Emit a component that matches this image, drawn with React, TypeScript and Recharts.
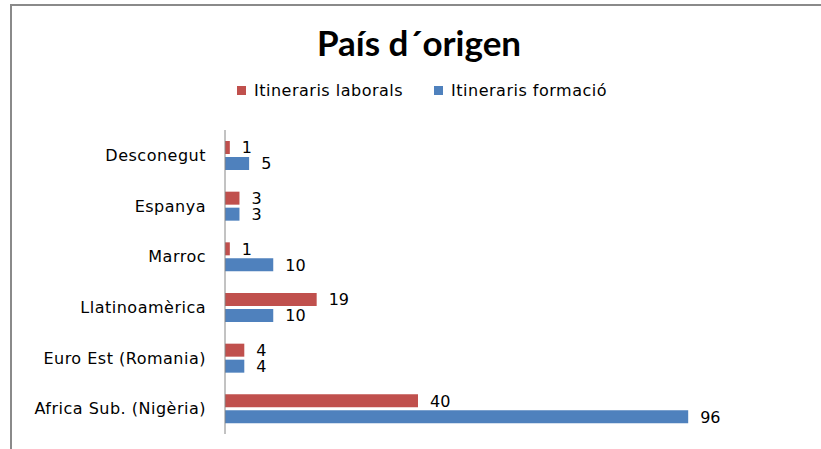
import React from "react";
import { BarChart, Bar, XAxis, YAxis, LabelList } from "recharts";

const categories = [
  "Desconegut",
  "Espanya",
  "Marroc",
  "Llatinoamèrica",
  "Euro Est (Romania)",
  "Africa Sub. (Nigèria)",
];
const laborals = [1, 3, 1, 19, 4, 40];
const formacio = [5, 3, 10, 10, 4, 96];
const seriesNames = ["Itineraris laborals", "Itineraris formació"];
const seriesColors = ["#C0504D", "#4F81BD"];

const data = categories.map((name, i) => ({
  name,
  laborals: laborals[i],
  formacio: formacio[i],
}));

const labelFont = "'DejaVu Sans', Verdana, sans-serif";

export default function App() {
  return (
    <div style={{ position: "relative", width: 821, height: 449, background: "#fff", overflow: "hidden" }}>
      <style>{`body { margin: 0; }`}</style>
      {/* frame: only top and left edges show in the crop */}
      <div style={{ position: "absolute", left: 10, top: 4, right: 0, height: 2, background: "#8a8a8a" }} />
      <div style={{ position: "absolute", left: 10, top: 4, width: 2, bottom: 0, background: "#8a8a8a" }} />
      <div
        style={{
          position: "absolute",
          top: 21,
          left: 0,
          width: 838,
          textAlign: "center",
          fontFamily: "Lato, sans-serif",
          fontWeight: 700,
          fontSize: 35,
          color: "#000",
        }}
      >
        País d´origen
      </div>
      <div
        style={{
          position: "absolute",
          top: 81,
          left: 237,
          display: "flex",
          alignItems: "center",
          fontFamily: labelFont,
          fontSize: 16,
          letterSpacing: 0.5,
          color: "#000",
        }}
      >
        {seriesNames.map((s, i) => (
          <span key={s} style={{ display: "flex", alignItems: "center", marginRight: 31 }}>
            <span style={{ width: 9, height: 9, background: seriesColors[i], marginRight: 8 }} />
            {s}
          </span>
        ))}
      </div>
      <BarChart
        width={821}
        height={449}
        data={data}
        layout="vertical"
        margin={{ top: 130, right: 17, bottom: 15, left: 0 }}
        barSize={13}
        barGap={3}
        style={{ position: "absolute", top: 0, left: 0 }}
      >
        <XAxis type="number" domain={[0, 120]} hide />
        <YAxis
          type="category"
          dataKey="name"
          width={225}
          tickLine={false}
          tickSize={0}
          tickMargin={19}
          axisLine={{ stroke: "#868686" }}
          tick={{ fill: "#000", fontSize: 16, fontFamily: labelFont, letterSpacing: 0.5 }}
        />
        <Bar dataKey="laborals" name={seriesNames[0]} fill={seriesColors[0]} isAnimationActive={false}>
          <LabelList
            dataKey="laborals"
            position="right"
            offset={12}
            style={{ fill: "#000", fontSize: 16, fontFamily: labelFont }}
          />
        </Bar>
        <Bar dataKey="formacio" name={seriesNames[1]} fill={seriesColors[1]} isAnimationActive={false}>
          <LabelList
            dataKey="formacio"
            position="right"
            offset={12}
            style={{ fill: "#000", fontSize: 16, fontFamily: labelFont }}
          />
        </Bar>
      </BarChart>
    </div>
  );
}
